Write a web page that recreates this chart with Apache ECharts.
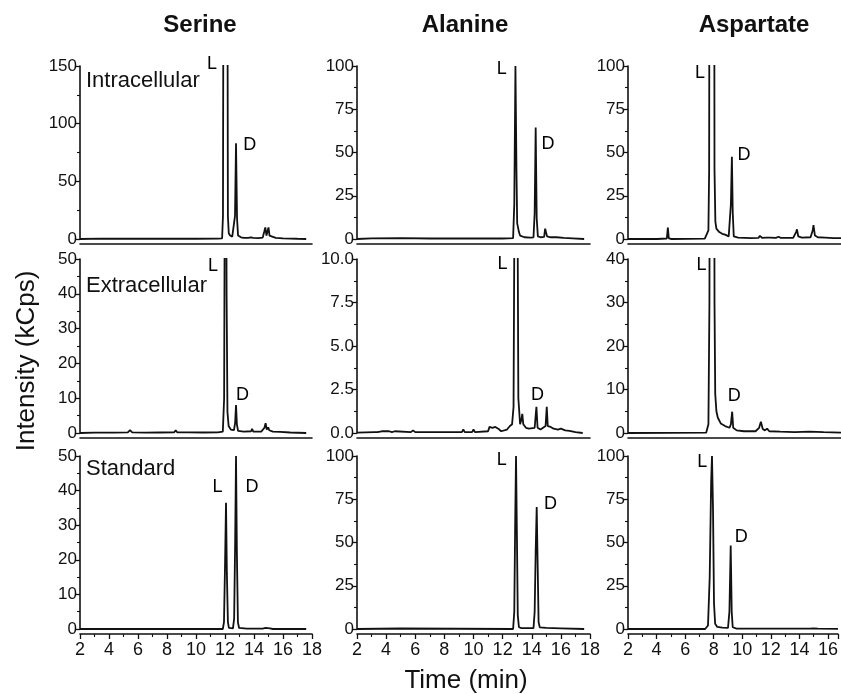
<!DOCTYPE html>
<html>
<head>
<meta charset="utf-8">
<script src="https://cdn.jsdelivr.net/npm/echarts@6/dist/echarts.min.js"></script>
<style>
html,body{margin:0;padding:0;background:#fff;}
#chart{width:841px;height:694px;}
</style>
</head>
<body>
<div id="chart"></div>
<script>
// ---- Text / categories ----
const compounds = ["Serine", "Alanine", "Aspartate"];
const samples = ["Intracellular", "Extracellular", "Standard"];
const xTitle = "Time (min)";
const yTitle = "Intensity (kCps)";

// ---- Axis ranges (per column: x; per column/row: y) ----
const xMin = 2;
const xMaxByCol = [18, 18, 16.7];
const xStep = 2;
const yMaxSerine = [150, 50, 50];
const yStepSerine = [50, 10, 10];
const yMaxAlanine = [100, 10, 100];
const yStepAlanine = [25, 2.5, 25];
const yMaxAspartate = [100, 40, 100];
const yStepAspartate = [25, 10, 25];

// ---- Chromatogram data [time (min), intensity (kCps)] ----
const serineIntra = [[2.0,0],[3.5,0.3],[3.6,0],[5.0,0.2],[5.1,0],[8.0,0.3],[8.1,0],[10.0,0.2],[10.1,0],[11.5,0.3],[11.8,0.5],[11.86,20],[11.9,300],[12.03,500],[12.16,300],[12.2,20],[12.26,5],[12.35,3],[12.5,2],[12.62,1.5],[12.69,20],[12.76,83],[12.83,18],[12.9,3],[12.97,2],[13.03,4.5],[13.1,1.5],[13.3,1],[13.6,1],[13.78,1.5],[13.87,3],[13.95,1],[14.3,0.8],[14.6,1.2],[14.7,6],[14.78,10],[14.86,3],[14.92,4],[15.0,10],[15.07,3],[15.2,1.5],[15.5,1],[16.0,0.6],[16.5,0.4],[17.0,0.2],[17.6,0]];
const serineExtra = [[2.0,0],[3.0,0.1],[4.1,0.1],[4.2,0.4],[4.3,0.1],[5.3,0.2],[5.45,0.8],[5.6,0.2],[6.5,0.1],[7.5,0.15],[8.5,0.2],[8.6,0.8],[8.7,0.2],[9.5,0.2],[10.5,0.15],[11.5,0.2],[11.85,0.4],[11.94,10],[11.99,80],[12.05,120],[12.11,40],[12.17,6],[12.25,2],[12.4,1],[12.62,0.8],[12.7,3],[12.76,8],[12.82,2.5],[12.9,0.6],[13.3,0.4],[13.8,0.5],[13.87,1.2],[13.95,0.4],[14.5,0.4],[14.72,1.5],[14.8,2.8],[14.88,1],[14.98,1.6],[15.05,0.8],[15.3,0.4],[15.8,0.3],[16.5,0.15],[17.6,0]];
const serineStd = [[2.0,0],[11.85,0],[11.93,2],[12.0,18],[12.07,36.5],[12.13,16],[12.2,2],[12.27,0.3],[12.55,0.2],[12.63,3],[12.7,25],[12.76,50],[12.82,22],[12.89,2],[12.97,0.3],[13.5,0.1],[14.4,0.1],[14.5,0.4],[14.6,0.1],[14.8,0.3],[14.9,0.1],[15.1,0.2],[15.3,0],[17.6,0]];

const alanineIntra = [[2.0,0],[3.0,0.4],[3.1,0],[5.0,0.5],[5.1,0],[7.0,0.3],[7.1,0],[9.5,0.3],[10.0,0.4],[10.4,0.3],[10.8,0.4],[11.2,0.3],[12.0,0.3],[12.72,0.5],[12.8,20],[12.88,100],[12.95,40],[13.0,9],[13.05,7],[13.12,4],[13.2,2],[13.3,1.3],[13.5,1],[13.9,0.8],[14.12,1],[14.2,15],[14.27,64.5],[14.34,12],[14.42,1.5],[14.6,1],[14.85,1.2],[14.92,6],[14.98,5],[15.05,1.5],[15.3,1],[15.7,1],[16.2,0.6],[16.8,0.4],[17.6,0]];
const alanineExtra = [[2.0,0.02],[3.2,0.05],[3.3,0.12],[3.4,0.05],[3.7,0.1],[3.8,0.04],[4.2,0.1],[4.4,0.05],[4.6,0.1],[4.7,0.03],[5.7,0.05],[5.85,0.15],[6.0,0.05],[7.2,0.05],[8.0,0.05],[9.2,0.05],[9.3,0.2],[9.4,0.05],[9.9,0.05],[10.0,0.2],[10.1,0.05],[11.0,0.1],[11.1,0.35],[11.3,0.3],[11.5,0.35],[11.7,0.25],[11.9,0.1],[12.3,0.2],[12.5,0.4],[12.65,0.5],[12.75,1.5],[12.85,20],[12.92,25],[13.0,18],[13.08,2],[13.2,0.5],[13.3,0.8],[13.35,1.1],[13.42,0.5],[13.6,0.3],[13.8,0.25],[14.2,0.3],[14.32,1.5],[14.4,0.3],[14.6,0.2],[14.95,0.4],[15.03,1.5],[15.1,0.4],[15.3,0.35],[15.5,0.25],[15.6,0.35],[15.8,0.2],[16.0,0.25],[16.3,0.15],[16.6,0.12],[17.0,0.05],[17.5,0]];
const alanineStd = [[2.0,0],[5.0,0.3],[5.1,0],[12.72,0],[12.8,10],[12.86,60],[12.92,100],[12.98,55],[13.04,8],[13.12,1],[13.3,0.5],[14.12,0.5],[14.2,10],[14.27,45],[14.34,70.5],[14.41,35],[14.47,4],[14.55,1],[15.0,0.6],[16.0,0.4],[17.6,0]];

const aspartateIntra = [[2.0,0],[4.0,0],[4.68,0.3],[4.75,6.6],[4.82,0.3],[5.0,0],[7.3,0.2],[7.55,5],[7.6,40],[7.64,300],[7.8,400],[7.93,300],[7.97,40],[8.03,10],[8.1,6],[8.3,4],[8.5,3],[8.7,2.5],[8.95,1.5],[9.05,1],[9.1,20],[9.17,47.5],[9.23,15],[9.3,1.5],[9.6,0.8],[10.5,0.5],[11.0,0.6],[11.1,1.8],[11.25,0.7],[11.55,0.8],[11.68,1.8],[11.8,0.8],[12.2,0.7],[12.4,1.3],[12.55,0.6],[13.4,0.6],[13.6,4],[13.66,5.6],[13.75,1.5],[14.0,0.8],[14.6,1],[14.75,5],[14.8,8],[14.9,2],[15.1,1],[15.6,0.8],[16.2,0.5],[16.7,0.5]];
const aspartateExtra = [[2.0,0],[7.4,0.1],[7.55,2],[7.62,30],[7.68,150],[7.8,200],[7.92,150],[7.97,30],[8.02,9],[8.1,5],[8.2,3.5],[8.4,2.2],[8.7,1.6],[9.0,1.2],[9.1,2],[9.19,4.9],[9.26,1.2],[9.5,0.6],[10.0,0.4],[10.8,0.4],[11.05,1.2],[11.17,2.6],[11.3,0.9],[11.45,0.6],[11.6,1.0],[11.75,0.4],[12.5,0.3],[13.5,0.2],[14.5,0.3],[15.5,0.2],[16.7,0.1]];
const aspartateStd = [[2.0,0],[7.4,0],[7.6,2],[7.72,30],[7.82,85],[7.88,100],[7.95,70],[8.02,15],[8.1,3],[8.25,1.2],[8.6,0.8],[9.0,0.6],[9.1,10],[9.19,48.3],[9.26,10],[9.33,1],[9.6,0.2],[11.5,0.2],[11.6,0.6],[11.7,0.2],[14.7,0.2],[15.0,0.4],[15.3,0.2],[16.7,0.1]];

// ---- Peak labels [text, time, intensity] ----
const serineIntraLabels = [["L",11.1,151.3],["D",13.7,81.5]];
const serineExtraLabels = [["L",11.17,48],["D",13.2,11]];
const serineStdLabels = [["L",11.48,41.1],["D",13.86,41.1]];
const alanineIntraLabels = [["L",11.94,98],["D",15.12,55]];
const alanineExtraLabels = [["L",12.0,9.7],["D",14.4,2.2]];
const alanineStdLabels = [["L",11.94,97.4],["D",15.29,72]];
const aspartateIntraLabels = [["L",6.97,96],["D",10.0,48.8]];
const aspartateExtraLabels = [["L",7.07,38.7],["D",9.34,8.4]];
const aspartateStdLabels = [["L",7.2,96.6],["D",9.93,53]];

// ---- Assemble panels ----
const panelData = [
  [serineIntra, serineExtra, serineStd],
  [alanineIntra, alanineExtra, alanineStd],
  [aspartateIntra, aspartateExtra, aspartateStd]
];
const panelLabels = [
  [serineIntraLabels, serineExtraLabels, serineStdLabels],
  [alanineIntraLabels, alanineExtraLabels, alanineStdLabels],
  [aspartateIntraLabels, aspartateExtraLabels, aspartateStdLabels]
];
const yMaxes = [yMaxSerine, yMaxAlanine, yMaxAspartate];
const ySteps = [yStepSerine, yStepAlanine, yStepAspartate];

// layout (pixels)
const colLeft = [80, 357, 628];
const colWidth = [232, 233, 213];
const rowTop = [66, 259, 456];
const rowHeight = [173, 174, 173];

const FONT = '"Liberation Sans", Arial, sans-serif';
const INK = '#111';

const grids = [], xAxes = [], yAxes = [], series = [];
let idx = 0;
for (let c = 0; c < 3; c++) {
  for (let r = 0; r < 3; r++) {
    grids.push({ left: colLeft[c], top: rowTop[r], width: colWidth[c], height: rowHeight[r], containLabel: false });
    const bottomRow = r === 2;
    xAxes.push({
      gridIndex: idx, type: 'value', min: xMin, max: xMaxByCol[c], interval: xStep,
      offset: 5,
      axisLine: { show: true, onZero: false, lineStyle: { color: INK, width: 1.6 } },
      axisTick: { show: bottomRow, length: 5, lineStyle: { color: INK, width: 1.3 } },
      minorTick: { show: bottomRow, splitNumber: 2, length: 3, lineStyle: { color: INK, width: 1.1 } },
      axisLabel: { show: bottomRow, fontSize: 18, color: INK, fontFamily: FONT, margin: 7,
        formatter: v => (Math.abs(v % 2) < 1e-9 ? String(v) : '') },
      splitLine: { show: false }
    });
    const step = ySteps[c][r];
    yAxes.push({
      gridIndex: idx, type: 'value', min: 0, max: yMaxes[c][r], interval: step,
      axisLine: { show: true, onZero: false, lineStyle: { color: INK, width: 1.6 } },
      axisTick: { show: true, length: 5, lineStyle: { color: INK, width: 1.3 } },
      minorTick: { show: true, splitNumber: 2, length: 3, lineStyle: { color: INK, width: 1.1 } },
      axisLabel: { show: true, fontSize: 17, color: INK, fontFamily: FONT, margin: 3,
        formatter: v => (step < 5 ? v.toFixed(1) : String(v)) },
      splitLine: { show: false }
    });
    series.push({
      type: 'line', xAxisIndex: idx, yAxisIndex: idx, data: panelData[c][r],
      showSymbol: false, symbol: 'none', clip: true, animation: false, silent: true,
      lineStyle: { color: INK, width: 1.8 }
    });
    series.push({
      type: 'scatter', xAxisIndex: idx, yAxisIndex: idx,
      data: panelLabels[c][r].map(d => [d[1], d[2], d[0]]),
      symbolSize: 1, clip: false, animation: false, silent: true,
      itemStyle: { color: 'rgba(0,0,0,0)' },
      label: { show: true, position: 'inside', formatter: p => p.data[2],
        fontSize: 18, color: '#000', opacity: 1, textBorderWidth: 0, fontFamily: FONT }
    });
    idx++;
  }
}

const textEl = (text, x, y, size, opts) => Object.assign({
  type: 'text', x: x, y: y, silent: true,
  style: Object.assign({ text: text, fill: INK, font: size + 'px ' + FONT,
    textAlign: 'center', textVerticalAlign: 'middle', align: 'center', verticalAlign: 'middle' },
    (opts && opts.style) || {})
}, (opts && opts.el) || {});

const graphics = [
  textEl(compounds[0], 200, 25, 'bold 24'),
  textEl(compounds[1], 465, 25, 'bold 24'),
  textEl(compounds[2], 754, 25, 'bold 24'),
  textEl(samples[0], 86, 81, 22, { style: { textAlign: 'left', align: 'left' } }),
  textEl(samples[1], 86, 286, 22, { style: { textAlign: 'left', align: 'left' } }),
  textEl(samples[2], 86, 469, 22, { style: { textAlign: 'left', align: 'left' } }),
  textEl(xTitle, 466, 681, 26),
  textEl(yTitle, 27, 361, 26, { el: { rotation: Math.PI / 2 } })
];

const chart = echarts.init(document.getElementById('chart'), null, { renderer: 'canvas' });
chart.setOption({
  animation: false,
  backgroundColor: '#fff',
  textStyle: { fontFamily: FONT },
  grid: grids, xAxis: xAxes, yAxis: yAxes, series: series,
  graphic: { elements: graphics }
});
</script>
</body>
</html>
